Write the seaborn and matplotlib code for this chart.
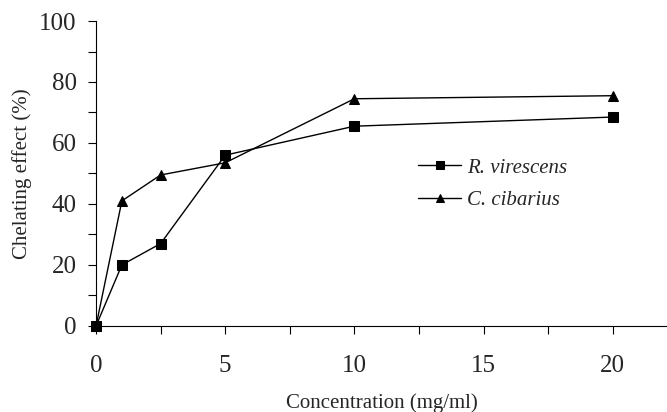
import matplotlib
matplotlib.use("Agg")
import matplotlib.pyplot as plt
import seaborn as sns
import pandas as pd
from matplotlib.ticker import MultipleLocator

concentration = [0, 1, 2.5, 5, 10, 20]
r_virescens = [0, 20, 27, 56, 65.5, 68.5]
c_cibarius = [0, 41, 49.5, 53.5, 74.5, 75.5]
series_names = ["R. virescens", "C. cibarius"]

df = pd.DataFrame({
    "conc": concentration * 2,
    "val": r_virescens + c_cibarius,
    "species": [series_names[0]] * len(concentration) + [series_names[1]] * len(concentration),
})

sns.set_style("white")
plt.rcParams['font.family'] = ['Liberation Serif', 'DejaVu Serif']

fig = plt.figure(figsize=(6.67, 4.12), dpi=100)
ax = fig.add_axes([0.144, 0.209, 0.856, 0.74])

sns.lineplot(data=df, x="conc", y="val", hue="species", style="species",
             markers={series_names[0]: "s", series_names[1]: "^"}, dashes=False,
             palette={series_names[0]: "black", series_names[1]: "black"},
             markersize=7, linewidth=1.0, markeredgecolor="black", ax=ax,
             clip_on=False)

ax.set_xlim(0, 22.1)
ax.set_ylim(0, 100)
ax.xaxis.set_major_locator(MultipleLocator(5))
ax.xaxis.set_minor_locator(MultipleLocator(2.5))
ax.yaxis.set_major_locator(MultipleLocator(20))
ax.yaxis.set_minor_locator(MultipleLocator(10))
ax.tick_params(axis="both", which="both", direction="out", color="black", width=0.8)
ax.tick_params(axis="both", which="major", length=6, labelsize=18)
ax.tick_params(axis="both", which="minor", length=6)
ax.tick_params(axis="x", which="major", pad=15)
ax.tick_params(axis="y", which="major", pad=8)
ax.xaxis.set_ticks_position("bottom")
ax.yaxis.set_ticks_position("left")

for s in ["top", "right"]:
    ax.spines[s].set_visible(False)
for s in ["left", "bottom"]:
    ax.spines[s].set_color("black")
    ax.spines[s].set_linewidth(0.8)

ax.set_xlabel("Concentration (mg/ml)", fontsize=15, labelpad=12)
ax.set_ylabel("Chelating effect (%)", fontsize=15, labelpad=5)

leg = ax.legend(loc="center left", bbox_to_anchor=(418 / 667, 1 - 184 / 412),
                bbox_transform=fig.transFigure, frameon=False,
                borderpad=0, borderaxespad=0,
                prop={"family": "Liberation Serif", "style": "italic", "size": 15},
                handlelength=2.07, handletextpad=0.3, labelspacing=0.6)
for line in leg.get_lines():
    line.set_markersize(6)
    line.set_linewidth(1.0)

fig.savefig("out.png", dpi=100)
